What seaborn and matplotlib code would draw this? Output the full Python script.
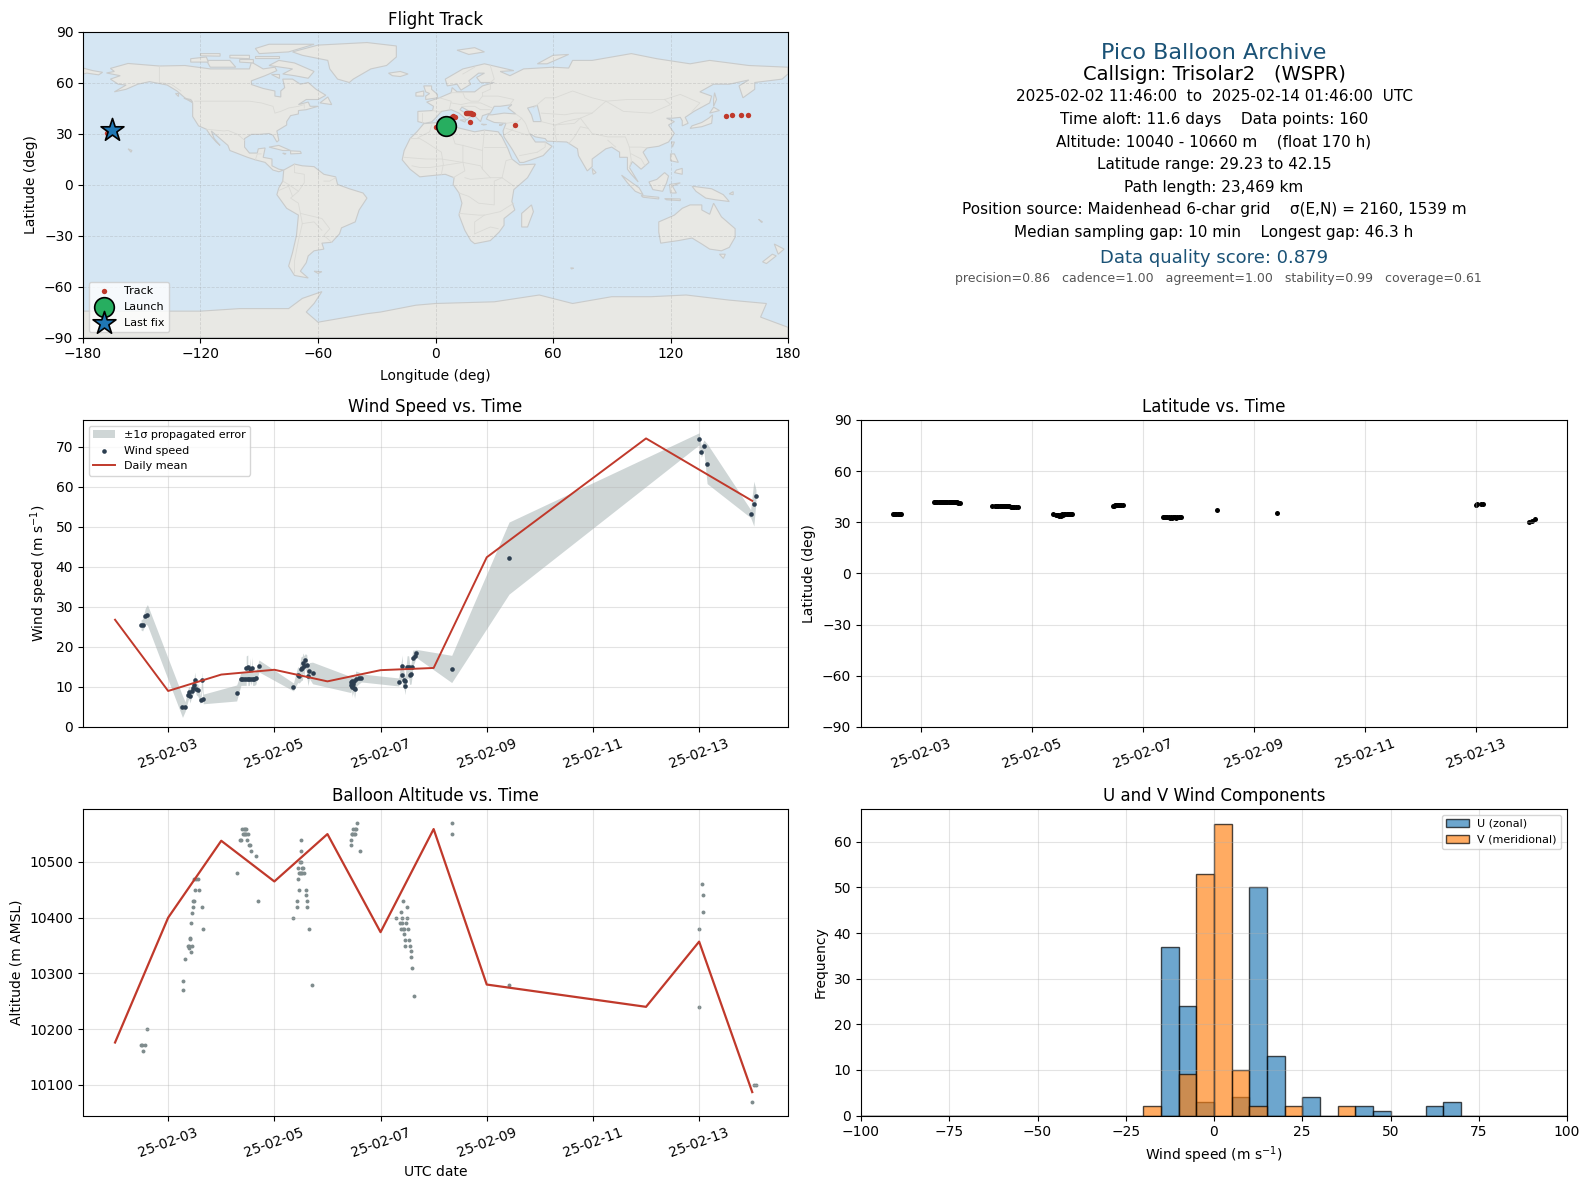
# pico balloon flight summary figure
import pandas as pd
import matplotlib
matplotlib.use('Agg')
import matplotlib.pyplot as plt
import matplotlib.dates as mdates
import seaborn as sns

RED = '#c0392b'
NAVY = '#2c3e50'
GREY = '#7f8c8d'
TITLE_BLUE = '#1a5276'
OCEAN = '#d5e6f3'
LAND = '#e8e8e4'
COAST = '#c9cbcb'
BORDER = '#dadad6'

# land outlines, (lon, lat)
north_america = [(-168,65.6),(-164,66.5),(-166,68.3),(-157,71.2),(-141,69.7),(-128,70),(-115,68),(-108,68),(-95,68),(-94,72),(-88,68),(-82,69),(-81,67),(-87,64),(-94,61),(-94,58.8),(-88,56.5),(-82,55),(-82,52),(-79,51.5),(-79,55),(-77,57),(-78,62),(-73,62),(-69,59),(-65,60),(-61,56),(-56,52.5),(-60,50),(-66,50),(-70,47),(-65,48.5),(-64,46),(-60,46),(-66,44),(-70,43.5),(-70,41.5),(-74,40.5),(-76,37),(-76,35),(-81,31.5),(-80,26),(-81,25),(-83,29),(-85,30),(-90,29.5),(-94,29.5),(-97.5,27),(-97.5,22),(-95,18.5),(-91,18.5),(-90.5,21),(-87,21.5),(-88,16),(-83.5,15),(-83.5,11),(-80,9),(-77.5,8.5),(-80,7.5),(-83,8.5),(-87,13),(-92,14.5),(-96,16),(-105,20),(-106,23),(-112,29),(-114.5,31.5),(-113,27),(-110,23),(-112,25),(-115,29),(-117,32.5),(-121,34.5),(-124,40),(-124,48),(-128,51),(-132,55),(-137,58.5),(-146,60.5),(-152,59),(-158,56),(-164,54.5),(-158,58.5),(-162,59),(-166,62),(-161,64)]
greenland = [(-73,78),(-60,82),(-35,83.5),(-20,81.5),(-20,75),(-25,70),(-33,68),(-42,62),(-44,60),(-50,62),(-54,68),(-55,73),(-68,76)]
south_america = [(-77.5,8.5),(-72,12),(-68,11),(-62,10.5),(-57,6),(-51,4.5),(-50,0),(-44,-2.5),(-37,-5),(-35,-8),(-39,-15),(-41,-22),(-48,-25.5),(-49,-29),(-53,-34),(-58,-34.5),(-57,-38),(-62,-39),(-65,-42),(-66,-46),(-69,-51),(-65,-55),(-72,-53.5),(-75,-48),(-73,-40),(-71,-30),(-70,-18),(-76,-14),(-81,-6),(-80,-2),(-78,2)]
africa = [(-6,35.8),(10,37.3),(11,33.5),(20,31),(25,32),(32,31),(34,28),(37,21),(39,15),(43,11.5),(51,12),(47,4),(40,-3),(39,-10),(40.5,-15),(35,-20),(35,-24),(32.5,-28),(28,-33),(20,-34.8),(18,-33),(15,-27),(12,-18),(13.5,-11),(12,-5),(9,0),(9.5,4),(5,6),(-4,5),(-8,4.5),(-13,9),(-17,14.5),(-16,20),(-13,27),(-9.5,31)]
eurasia = [(-9,37),(-9,43),(-1.5,43.5),(-1,46),(-4.5,48.5),(2,51),(8,54),(8.5,57),(11,54.5),(20,54.5),(24,58),(30,60),(23,60),(21,63),(25,65.5),(22,65.5),(17,61),(18,59),(13,55.5),(11,59),(6,58),(5,62),(14,68),(25,71),(40,67),(33,66.5),(38,64),(45,68),(60,69),(68,68.5),(70,73),(80,73),(100,77),(113,74),(130,71),(140,73),(160,70),(180,69),(180,65),(177,62),(163,60),(163,56),(157,51),(155,58),(160,61.5),(150,59),(142,59),(135,54.5),(141,52),(140,48),(132,43),(127.5,39.5),(129,36),(126,34.5),(126,37.5),(125,39.5),(121,39),(118,39),(122,37),(119,35),(122,30),(119,25),(114,22.5),(108,21.5),(106,19),(109,13),(105,9),(100.5,13.5),(99,10),(103.5,1.5),(100,6),(98,9),(98,16),(94,16),(94,19),(90,22),(87,21),(80,15),(80,10.5),(77.5,8),(73,17),(72.5,21),(67,25),(57,25.5),(56,27),(51,28),(48,30),(51,25),(56,25),(59.5,22.5),(55,17),(45,13),(43,13),(39,21),(35,28),(34.5,31.5),(36,36),(30,36.5),(26,38.5),(27,41),(29,41),(35,42),(41,41.5),(37,45),(39,47),(33,46),(30,46),(28,42),(24,40.5),(23,37),(19.5,41),(19,42),(13.5,45.5),(12.5,44),(18,40),(16,38),(12,42),(8,44),(3,43),(0,39),(-2,36.8),(-5.5,36)]
australia = [(114,-22),(122,-18),(126,-14),(130,-12),(136,-12),(136,-15),(140,-17.5),(142,-11),(146,-19),(153,-26),(153,-31),(150,-37),(146,-39),(140,-38),(136,-35),(131,-31.5),(124,-33),(115,-34.5),(114,-28)]
antarctica = [(-180,-90),(-180,-74.5),(-120,-74.5),(-100,-73),(-75,-73),(-68,-67),(-58,-63),(-62,-70),(-66,-75),(-60,-81),(-35,-76),(-28,-75),(-10,-71),(0,-70),(30,-69),(53,-65),(70,-70),(90,-66),(110,-66),(128,-65),(150,-68),(169,-70),(166,-78),(180,-84),(180,-90)]
islands = [
    [(-180,68.5),(-175,67),(-170,66),(-172,64.5),(-178,65.5),(-180,65)],
    [(-80,73),(-72,71.5),(-62,66.5),(-65,62.5),(-72,64),(-78,65),(-73,68),(-85,70)],
    [(-117,73),(-105,73),(-102,69),(-115,69)],
    [(-90,77),(-75,78),(-62,82.5),(-85,82.5),(-92,80)],
    [(-125,74),(-117,75),(-116,72),(-125,72)],
    [(-105,76),(-95,76),(-95,74),(-105,74.5)],
    [(-120,77),(-110,77),(-110,75.5),(-120,75.7)],
    [(-92,75.5),(-80,75.5),(-80,74.5),(-92,74.5)],
    [(-100,73.5),(-93,73.5),(-93,71.5),(-100,72)],
    [(-84,65),(-80,65),(-80,62.5)],
    [(-59,48),(-55,51.5),(-53,47)],
    [(-85,22),(-80,23),(-74,20),(-78,20)],
    [(-74,19.8),(-69,19.5),(-68.5,18.3),(-74,18)],
    [(-78,18.4),(-76.3,18.2),(-77,17.8)],
    [(-133,54),(-131.5,54),(-131.5,52)],
    [(-128.5,50.8),(-125,50),(-124,48.5)],
    [(-24,65.5),(-18,66.5),(-14,65),(-18,63.5),(-22,64)],
    [(-5,50),(1,51),(1,53),(-2,56),(-2,58),(-6,58),(-5,54.5),(-3,53.5),(-5,52)],
    [(-10,52),(-6,52),(-6,55),(-10,54)],
    [(11,79),(20,80.5),(25,78),(17,76.5)],
    [(52,71),(57,71),(68,76.5),(60,76)],
    [(8.3,41),(9.6,41),(9.6,39),(8.5,39)],
    [(12.5,38),(15.5,38),(15,36.7)],
    [(23.5,35.5),(26,35.3),(24.5,35)],
    [(32.5,35),(34.5,35.6),(33.5,34.7)],
    [(130,33),(136,34),(141,36),(141.5,41),(139.5,39),(136,36.5),(131,34.5)],
    [(140,42),(145,43.5),(142,45.5)],
    [(142,46),(143.5,50),(142.5,54),(142,50)],
    [(120,18),(122,18),(124,13),(120,14)],
    [(122,7),(126,6),(126,9.5),(123,8.5)],
    [(109,1.5),(113,3),(117,7),(119,5),(118,1),(116,-4),(111,-3)],
    [(95,5.5),(104,-2),(106,-6),(102,-4),(98,1)],
    [(105,-6.5),(114,-7.5),(114,-8.5),(106,-7.5)],
    [(119.5,0),(125,1),(121,-1),(123,-5),(120,-5)],
    [(131,-1),(141,-2.5),(147,-6),(150,-10),(143,-9),(138,-8),(133,-4)],
    [(145,-41),(148,-41),(147,-43.5)],
    [(173,-35),(178,-38),(175,-41),(174,-38)],
    [(172,-41),(174,-42),(169,-46.5),(167,-45.5)],
    [(49,-12),(50,-16),(47,-25),(44,-25),(44,-17)],
    [(80,9.5),(82,7),(80.5,6)],
    [(120.5,25),(122,25),(121,22)],
    [(-157,21),(-155,20),(-155.5,19)],
    [(-62,-51),(-58,-51.3),(-60,-52.3)],
    [(69,-49),(70.5,-49.2),(69.5,-49.7)],
    [(165,-20.5),(167,-22),(166.5,-22.3)],
    [(117,-8.3),(125,-8.5),(125,-9.5),(118,-9)],
    [(150,-5.5),(152,-4.2),(152,-6)],
]
caspian = [(47,45),(52,46.5),(53,42),(54,37),(50,37),(49,41)]

# rough country borders
borders = [
    [(-123,49),(-95,49),(-89,48),(-83,46),(-82,42),(-79,43),(-75,45),(-70,46),(-67,47),(-67,45)],
    [(-141,69.7),(-141,60),(-135,59),(-130,55)],
    [(-117,32.5),(-108,31.5),(-106,31.8),(-101,29.5),(-97.5,26)],
    [(-92,14.5),(-91,18),(-89,18)],
    [(-72,12),(-72,7),(-67,6),(-67,1),(-70,-4),(-74,-8),(-70,-11),(-69,-17),(-58,-20),(-54,-26),(-57,-30),(-53,-34)],
    [(-78,2),(-75,0),(-70,-4)],
    [(-80,-3.5),(-75,-1),(-73,-7)],
    [(-60,5),(-60,8)],
    [(-57,2),(-54,2),(-51,4)],
    [(-69,-17),(-68,-23),(-70,-33),(-72,-45),(-72,-52)],
    [(-68,-23),(-62,-22),(-58,-27)],
    [(-9,27.5),(-3,31),(-2,35)],
    [(-13,27),(-8,27),(-5,25),(3,19),(4,12),(3,6)],
    [(10,37),(8,31),(10,24),(14,23),(24,20),(25,32)],
    [(25,22),(36,22)],
    [(-16,16),(-5,15),(3,15),(14,13),(14,23)],
    [(-12,11),(-8,10),(-3,10),(3,11),(14,13),(15,8),(9,4)],
    [(24,20),(24,9),(28,4),(34,4),(40,-1)],
    [(34,4),(36,14),(39,15)],
    [(14,13),(23,11),(24,9)],
    [(15,4),(18,3),(28,4)],
    [(12,-5),(17,-7),(22,-11),(30,-12),(30,-5),(30,2),(34,4)],
    [(12,-17),(22,-18),(25,-18),(33,-16),(40,-11)],
    [(20,-29),(20,-22),(25,-18)],
    [(20,-29),(28,-25),(32,-26)],
    [(2,51),(8,49),(7,44)],
    [(-1.5,43.5),(3,42.5)],
    [(-7,37),(-7,42)],
    [(8,54),(14,54),(15,51),(18,49),(22,49),(24,52),(24,54)],
    [(8,48),(13,47),(17,48),(23,48),(29,45)],
    [(13.5,46),(20,46),(23,44),(28,44)],
    [(24,54),(28,56),(28,60)],
    [(24,52),(32,52),(40,50),(38,47)],
    [(28,70),(30,62),(28,60)],
    [(14,65),(20,69)],
    [(50,45),(56,51),(61,51),(70,55),(80,51),(87,49),(98,50),(107,50),(117,50),(125,53),(135,48),(131,43)],
    [(87,49),(80,42),(74,39),(78,33),(80,30),(88,28),(97,28),(99,22),(105,22),(108,21.5)],
    [(87,49),(96,43),(110,42),(120,47),(117,50)],
    [(74,39),(71,36),(61,35),(61,30),(62,25)],
    [(78,33),(74,34),(71,28),(68,24)],
    [(54,37),(61,35),(66,37),(74,39)],
    [(54,42),(66,41),(71,42),(80,42)],
    [(88,26),(92,22)],
    [(99,22),(100,14),(99,10)],
    [(100,18),(105,15),(107,11)],
    [(44,39),(46,36),(48,30)],
    [(36,36),(42,37),(44,39),(41,41.5)],
    [(36,33),(39,32),(42,37)],
    [(39,32),(47,29),(48,30)],
    [(35,29),(39,32)],
    [(52,19),(56,22),(56,25)],
    [(43,17),(52,19)],
]

# track, launch and last fix
track_lon = [-168,0,2.5,3.2,4,5,6,7,8,8.3,9,9.5,10,15.5,16,16.5,17,17.5,18,18.5,19,17.6,40.7,148.4,151.3,156.1,159.5]
track_lat = [30.5,34,34.8,38.2,38.4,38.6,38.6,38.8,39.2,39.8,40.2,40,39.6,42,42,42,42,42,41.8,41.6,41.4,36.9,35.2,40.4,41,41,41]
launch_lon, launch_lat = [5.2], [34.5]
last_lon, last_lat = [-165], [32]

# dates are kept as a day of February 2025
mean_days = [2,3,4,5,6,7,8,9,12,13,14]
mean_wind = [26.8,9,13.1,14.3,11.4,14.2,14.75,42.4,72.1,64.3,56.5]
mean_alt = [10176,10400,10538,10465,10550,10374,10559,10280,10240,10357,10087]

wind_days = [2.49,2.52,2.57,2.61,3.27,3.32,3.375,3.39,3.41,3.44,3.47,3.49,3.50,3.53,3.56,3.61,3.64,3.66,4.29,4.37,4.40,4.43,4.47,4.47,4.50,4.50,4.53,4.54,4.56,4.58,4.59,4.62,4.65,4.71,5.36,5.44,5.47,5.50,5.53,5.54,5.56,5.58,5.61,5.63,5.66,5.72,6.44,6.45,6.46,6.47,6.47,6.48,6.50,6.50,6.52,6.53,6.59,6.64,7.34,7.41,7.41,7.44,7.47,7.47,7.50,7.53,7.55,7.575,7.59,7.61,7.64,7.67,8.34,9.42,13.0,13.04,13.09,13.15,13.97,14.03,14.07]
wind_speed = [25.5,25.5,27.7,28,5.1,5.1,8.1,8.7,7.8,8.9,9.75,10.6,11.7,9.5,9.2,6.75,11.8,7,8.5,12,12,12,12,14.75,15,12,12,14.5,12,14.75,12,12,12.2,15.25,10,13.1,12.8,14.5,14.75,16,15.3,16.8,15.6,12.8,14.1,13.5,10.6,11.2,9.9,11.4,10.3,10.8,9.75,11.6,9.6,12,12.25,12.25,11.25,15.2,13.1,11.8,10.3,11.4,15,15,13.1,13.25,15,17.25,17.7,18.4,14.5,42.2,72,68.8,70.3,65.8,53.3,55.8,57.8]
wind_sigma = [1.3,1.5,2,2.6,2.7,1.2,1.5,1.5,1.8,1.5,1.6,1.7,2,1.5,1.5,1,2,1.2,2,1.6,1.6,1.6,1.6,3,3,1.6,1.6,2.8,1.6,2.8,1.6,1.6,1.6,1.5,1,2,1.8,3,3,2.5,2.5,1.5,2.5,2.5,2,2.7,2,2,2.5,2,2.5,2,2.5,2,2.5,2,1.5,1,1,2.8,2.5,2.2,2.2,2.2,2.8,2.8,2.5,2.5,2.8,2,1.5,1,3.4,9,1.5,1.4,1.4,5,1,5.6,1.5]

alt_days = [2.49,2.51,2.525,2.556,2.6,3.275,3.275,3.31,3.37,3.39,3.40,3.405,3.41,3.425,3.44,3.425,3.44,3.46,3.46,3.49,3.5,3.49,3.52,3.56,3.59,3.63,3.65,4.29,4.36,4.38,4.40,4.41,4.42,4.43,4.44,4.45,4.46,4.47,4.48,4.50,4.52,4.54,4.56,4.65,4.70,5.36,5.43,5.43,5.45,5.45,5.46,5.47,5.48,5.48,5.50,5.50,5.51,5.51,5.52,5.53,5.54,5.55,5.59,5.59,5.62,5.62,5.66,5.71,6.44,6.45,6.46,6.47,6.48,6.50,6.51,6.52,6.53,6.55,6.62,7.30,7.36,7.38,7.39,7.40,7.41,7.42,7.43,7.44,7.45,7.46,7.47,7.48,7.49,7.50,7.52,7.54,7.56,7.57,7.58,7.60,7.63,8.34,8.34,9.42,13.0,13.0,13.06,13.08,13.08,14.0,14.04,14.07]
alt_values = [10171,10171,10161,10171,10200,10270,10286,10325,10350,10345,10350,10364,10361,10339,10350,10390,10409,10420,10430,10430,10450,10470,10470,10470,10450,10420,10380,10480,10540,10540,10560,10550,10560,10550,10560,10550,10560,10550,10540,10550,10530,10530,10520,10510,10430,10400,10420,10430,10470,10490,10480,10450,10500,10480,10520,10480,10500,10540,10490,10480,10490,10480,10450,10440,10430,10420,10380,10280,10530,10540,10550,10550,10560,10550,10560,10550,10560,10570,10520,10400,10390,10380,10410,10400,10390,10430,10380,10380,10370,10360,10350,10390,10400,10420,10380,10360,10350,10340,10330,10310,10260,10570,10550,10280,10240,10380,10460,10440,10410,10070,10100,10100]

lat_days = [2.49,2.51,2.53,2.55,2.57,2.59,2.60,2.62,2.63,3.23,3.25,3.27,3.29,3.31,3.33,3.35,3.37,3.39,3.41,3.43,3.45,3.47,3.49,3.51,3.53,3.55,3.57,3.59,3.61,3.63,3.65,3.67,3.69,4.27,4.33,4.35,4.37,4.39,4.41,4.43,4.45,4.47,4.49,4.51,4.53,4.55,4.57,4.59,4.61,4.63,4.65,4.67,4.70,4.74,5.37,5.43,5.45,5.47,5.48,5.50,5.52,5.54,5.56,5.58,5.60,5.62,5.64,5.66,5.68,5.70,5.72,6.46,6.47,6.49,6.51,6.52,6.54,6.55,6.57,6.58,6.61,6.64,7.36,7.38,7.40,7.42,7.44,7.46,7.48,7.50,7.52,7.54,7.56,7.58,7.60,7.62,7.64,7.66,7.69,8.34,9.42,13.0,13.03,13.09,13.13,13.97,14.02,14.07]
lat_values = [34.7,34.7,34.7,34.7,34.7,34.7,34.7,34.7,34.7,41.7,41.7,41.7,41.7,41.7,41.7,41.7,41.7,41.8,41.8,41.8,41.8,41.9,41.9,42,42.1,42.15,42,41.9,41.8,41.7,41.7,41.6,41.6,39.6,39.6,39.7,39.8,39.8,39.8,39.8,39.8,39.7,39.7,39.5,39.5,39.5,39.4,39.3,39.2,39.1,39,38.9,38.8,38.8,34.7,34.5,34.4,34.2,34,34.3,34,34.6,34.4,34.8,34.6,34.9,34.8,34.8,34.7,34.7,34.7,39.6,39.3,40,40.3,40.2,40.1,40.2,40.1,40.1,40,40,33.4,33.3,33.2,33.1,33.1,33,32.8,32.9,32.7,32.9,33,32.9,32.7,33,33,33.1,33.1,37,35.3,40.2,40.6,41,41,30,30.9,31.8]

# histogram counts per 5 m/s bin, starting from -100
u_counts = [0]*17 + [37,24,3,0,4,50,13,0,4,0,0,2,1,0,0,2,3,0,0,0,0,0,0,0,0][:23]
v_counts = [0]*16 + [2,0,9,53,64,10,2,0,2,0,0,2,0,0,0,0,0,0,0,0,0,0,0,0,0][:24]
hist_edges = list(range(-100, 105, 5))
hist_centers = [e + 2.5 for e in hist_edges[:-1]]

info_texts = [
    'Pico Balloon Archive',
    'Callsign: Trisolar2   (WSPR)',
    '2025-02-02 11:46:00  to  2025-02-14 01:46:00  UTC',
    'Time aloft: 11.6 days    Data points: 160',
    'Altitude: 10040 - 10660 m    (float 170 h)',
    'Latitude range: 29.23 to 42.15',
    'Path length: 23,469 km',
    'Position source: Maidenhead 6-char grid    σ(E,N) = 2160, 1539 m',
    'Median sampling gap: 10 min    Longest gap: 46.3 h',
    'Data quality score: 0.879',
    'precision=0.86   cadence=1.00   agreement=1.00   stability=0.99   coverage=0.61',
]


def feb(days):
    """turn day-of-February values into timestamps"""
    return pd.Timestamp('2025-02-01') + pd.to_timedelta([d - 1 for d in days], unit='D')


def place(fig, left, top, right, bottom):
    """add axes from pixel edges measured from the top left"""
    w, h = fig.get_size_inches() * fig.dpi
    return fig.add_axes([left / w, 1 - bottom / h, (right - left) / w, (bottom - top) / h])


def date_axis(ax):
    ax.xaxis.set_major_locator(mdates.DayLocator(bymonthday=range(1, 32, 2)))
    ax.xaxis.set_major_formatter(mdates.DateFormatter('%y-%m-%d'))
    ax.tick_params(axis='x', rotation=20)
    ax.grid(True, alpha=0.35)
    ax.set_xlabel('')


fig = plt.figure(figsize=(15.9, 11.89), dpi=100)
L1, R1, L2, R2 = 83, 788, 861, 1567
ax_map = place(fig, L1, 31.5, R1, 337.5)
ax_info = place(fig, L2, 31.5, R2, 337.5)
ax_wind = place(fig, L1, 420, R1, 727)
ax_lat = place(fig, L2, 420, R2, 727)
ax_alt = place(fig, L1, 809, R1, 1115.5)
ax_hist = place(fig, L2, 809, R2, 1115.5)

# flight track map
ax_map.set_facecolor(OCEAN)
for poly in [north_america, greenland, south_america, africa, eurasia, australia, antarctica] + islands:
    ax_map.fill(*zip(*poly), facecolor=LAND, edgecolor=COAST, linewidth=0.8, zorder=1)
ax_map.fill(*zip(*caspian), facecolor=OCEAN, edgecolor=COAST, linewidth=0.8, zorder=1)
for line in borders:
    ax_map.plot(*zip(*line), color=BORDER, linewidth=0.6, zorder=1.2)
ax_map.grid(True, linestyle='--', linewidth=0.6, color='#999999', alpha=0.3)
sns.scatterplot(x=track_lon, y=track_lat, color=RED, s=15, linewidth=0, label='Track', ax=ax_map, zorder=3)
sns.scatterplot(x=launch_lon, y=launch_lat, color='#27ae60', s=200, edgecolor='black', linewidth=1.2, label='Launch', ax=ax_map, zorder=4)
sns.scatterplot(x=last_lon, y=last_lat, color='#1f77b4', marker='*', s=300, edgecolor='black', linewidth=1.2, label='Last fix', ax=ax_map, zorder=5)
ax_map.set_xlim(-180, 180)
ax_map.set_ylim(-90, 90)
ax_map.set_xticks(range(-180, 181, 60))
ax_map.set_yticks(range(-90, 91, 30))
ax_map.set_xlabel('Longitude (deg)', labelpad=5.5)
ax_map.set_ylabel('Latitude (deg)')
ax_map.set_title('Flight Track', pad=4.5)
ax_map.legend(loc='lower left', fontsize=8)

# summary text, top to bottom
ax_info.axis('off')
info_sizes = [16, 14, 11, 11, 11, 11, 11, 11, 11, 13, 9]
info_colours = [TITLE_BLUE, 'black', 'black', 'black', 'black', 'black', 'black', 'black', 'black', TITLE_BLUE, '#555555']
info_y = [0.93, 0.858, 0.789, 0.714, 0.639, 0.564, 0.491, 0.417, 0.342, 0.259, 0.192]
info_x = [0.5] * 10 + [0.5055]
for text, size, colour, x, y in zip(info_texts, info_sizes, info_colours, info_x, info_y):
    ax_info.text(x, y, text, fontsize=size, color=colour, ha='center', va='center', transform=ax_info.transAxes)

# wind speed
wind_x = feb(wind_days)
lower = [s - e for s, e in zip(wind_speed, wind_sigma)]
upper = [s + e for s, e in zip(wind_speed, wind_sigma)]
ax_wind.fill_between(wind_x, lower, upper, color='#95a5a6', alpha=0.45, linewidth=0, label='±1σ propagated error')
sns.scatterplot(x=wind_x, y=wind_speed, color=NAVY, s=11, linewidth=0, label='Wind speed', ax=ax_wind, zorder=3)
sns.lineplot(x=feb(mean_days), y=mean_wind, color=RED, linewidth=1.4, errorbar=None, label='Daily mean', ax=ax_wind, zorder=4)
ax_wind.set_ylim(0, 76.7)
ax_wind.set_ylabel('Wind speed (m s$^{-1}$)')
ax_wind.set_title('Wind Speed vs. Time', pad=5.5)
ax_wind.legend(loc='upper left', fontsize=8)
date_axis(ax_wind)

# latitude
sns.scatterplot(x=feb(lat_days), y=lat_values, color='black', s=13, linewidth=0, ax=ax_lat)
ax_lat.set_ylim(-90, 90)
ax_lat.set_yticks(range(-90, 91, 30))
ax_lat.set_ylabel('Latitude (deg)')
ax_lat.set_title('Latitude vs. Time', pad=5.5)
date_axis(ax_lat)

# altitude
sns.scatterplot(x=feb(alt_days), y=alt_values, color=GREY, s=8, linewidth=0, ax=ax_alt)
sns.lineplot(x=feb(mean_days), y=mean_alt, color=RED, linewidth=1.6, errorbar=None, ax=ax_alt, zorder=4)
ax_alt.set_yticks([10100, 10200, 10300, 10400, 10500])
ax_alt.set_ylabel('Altitude (m AMSL)')
ax_alt.set_title('Balloon Altitude vs. Time', pad=5.5)
date_axis(ax_alt)
ax_alt.set_xlabel('UTC date')

# wind components
edge = (0, 0, 0, 0.7)
sns.histplot(x=hist_centers, weights=u_counts, bins=hist_edges, color='#1f77b4', alpha=0.65, edgecolor=edge, linewidth=1, label='U (zonal)', ax=ax_hist)
sns.histplot(x=hist_centers, weights=v_counts, bins=hist_edges, color='#ff7f0e', alpha=0.65, edgecolor=edge, linewidth=1, label='V (meridional)', ax=ax_hist)
ax_hist.set_xlim(-100, 100)
ax_hist.set_xlabel('Wind speed (m s$^{-1}$)')
ax_hist.set_ylabel('Frequency')
ax_hist.set_title('U and V Wind Components', pad=5.5)
ax_hist.grid(True, alpha=0.35)
ax_hist.legend(loc='upper right', fontsize=8)

fig.savefig('out.png', dpi=100)
